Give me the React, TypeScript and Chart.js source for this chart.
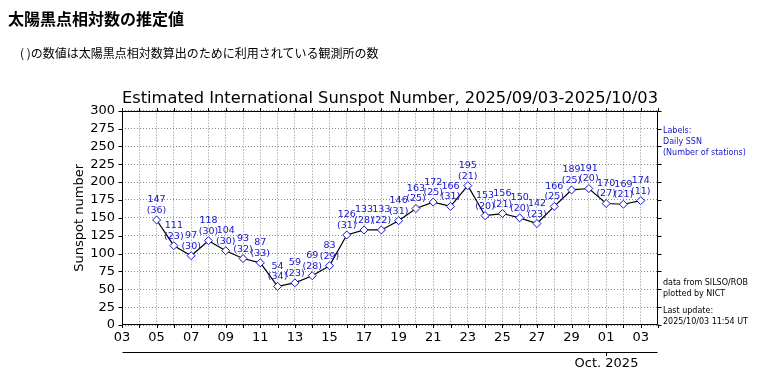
import React, { useEffect, useRef } from 'react';
import { Chart, registerables } from 'chart.js';

Chart.register(...registerables);

// Axis day labels: Sep 03 ... Oct 03 (index 0..30)
const axisDays = [
  '03', '04', '05', '06', '07', '08', '09', '10', '11', '12', '13', '14', '15', '16',
  '17', '18', '19', '20', '21', '22', '23', '24', '25', '26', '27', '28', '29', '30',
  '01', '02', '03',
];
const dataStartIndex = 2; // data begins on Sep 05
const ssn = [
  147, 111, 97, 118, 104, 93, 87, 54, 59, 69, 83, 126, 133, 133, 146, 163, 172, 166,
  195, 153, 156, 150, 142, 166, 189, 191, 170, 169, 174,
];
const stations = [
  36, 23, 30, 30, 30, 32, 33, 34, 23, 28, 29, 31, 28, 22, 31, 25, 25, 31,
  21, 20, 21, 20, 23, 25, 25, 20, 27, 21, 11,
];
const yTickValues = [0, 25, 50, 75, 100, 125, 150, 175, 200, 225, 250, 275, 300];
const monthLabel = 'Oct. 2025';
const monthStartIndex = 28;
const chartTitle = 'Estimated International Sunspot Number, 2025/09/03-2025/10/03';
const yTitle = 'Sunspot number';
const legendLines = ['Labels:', 'Daily SSN', '(Number of stations)'];
const creditLines = ['data from SILSO/ROB', 'plotted by NICT'];
const updateLines = ['Last update:', '2025/10/03 11:54 UT'];

const FONT = 'DejaVu Sans';
const BLUE = '#1414cc';

const mplPlugin = {
  id: 'mplDecor',
  afterDatasetsDraw(chart: any) {
    const { ctx } = chart;
    const meta = chart.getDatasetMeta(0);
    ctx.save();
    ctx.fillStyle = BLUE;
    ctx.font = `9.5px "${FONT}"`;
    ctx.textAlign = 'center';
    ctx.textBaseline = 'middle';
    meta.data.forEach((el: any, i: number) => {
      ctx.fillText(String(ssn[i]), el.x, el.y - 20);
      ctx.fillText(`(${stations[i]})`, el.x, el.y - 9.5);
    });
    ctx.restore();
  },
  afterDraw(chart: any) {
    const { ctx, chartArea: a, scales } = chart;
    const xs = scales.x;
    const ys = scales.y;
    ctx.save();
    ctx.strokeStyle = '#000';
    ctx.lineWidth = 1;
    const L = Math.round(a.left) + 0.5;
    const R = Math.round(a.right) - 0.5;
    const T = Math.round(a.top) + 0.5;
    const B = Math.round(a.bottom) - 0.5;
    ctx.beginPath();
    ctx.rect(L, T, R - L, B - T);
    // x ticks top & bottom (outward)
    for (let i = 0; i <= 31; i++) {
      const px = Math.round(xs.getPixelForValue(i)) + 0.5;
      ctx.moveTo(px, B);
      ctx.lineTo(px, B + 3.5);
      ctx.moveTo(px, T);
      ctx.lineTo(px, T - 3.5);
    }
    // y ticks left & right (outward)
    yTickValues.forEach((v) => {
      const py = Math.round(ys.getPixelForValue(v)) + 0.5;
      ctx.moveTo(L, py);
      ctx.lineTo(L - 4, py);
      ctx.moveTo(R, py);
      ctx.lineTo(R + 4, py);
    });
    ctx.stroke();

    // secondary month axis
    const my = Math.round(a.bottom + 27) + 0.5;
    const mx = Math.round(xs.getPixelForValue(monthStartIndex)) + 0.5;
    ctx.beginPath();
    ctx.moveTo(L, my);
    ctx.lineTo(R, my);
    ctx.moveTo(mx, my);
    ctx.lineTo(mx, my + 3.5);
    ctx.stroke();
    ctx.fillStyle = '#000';
    ctx.font = `13px "${FONT}"`;
    ctx.textAlign = 'center';
    ctx.textBaseline = 'middle';
    ctx.fillText(monthLabel, mx, my + 11);

    // right-side annotations
    ctx.textAlign = 'left';
    ctx.font = `8px "${FONT}"`;
    const tx = a.right + 5;
    ctx.fillStyle = BLUE;
    legendLines.forEach((s, i) => ctx.fillText(s, tx, a.top + 20 + i * 11));
    ctx.fillStyle = '#000';
    creditLines.forEach((s, i) => ctx.fillText(s, tx, a.bottom - 42 + i * 11));
    updateLines.forEach((s, i) => ctx.fillText(s, tx, a.bottom - 14 + i * 11));
    ctx.restore();
  },
};

export default function App() {
  const ref = useRef<HTMLCanvasElement>(null);
  useEffect(() => {
    const points = ssn.map((v, i) => ({ x: i + dataStartIndex, y: v }));
    const chart = new Chart(ref.current as HTMLCanvasElement, {
      type: 'line',
      data: {
        datasets: [
          {
            data: points,
            borderColor: '#000',
            borderWidth: 1.2,
            pointStyle: 'rectRot',
            pointRadius: 4,
            pointBorderWidth: 1,
            pointBorderColor: BLUE,
            pointBackgroundColor: '#fff',
            tension: 0,
          },
        ],
      },
      options: {
        responsive: false,
        devicePixelRatio: 1,
        animation: false,
        layout: { padding: { left: 0, right: 102, top: 88.6, bottom: 23 } },
        plugins: {
          legend: { display: false },
          tooltip: { enabled: false },
          title: {
            display: true,
            text: chartTitle,
            fullSize: false,
            color: '#000',
            font: { family: FONT, size: 16.7, weight: 'normal' },
            padding: { top: 0, bottom: 2 },
          },
        },
        scales: {
          x: {
            type: 'linear',
            min: 0,
            max: 31,
            afterBuildTicks: (s: any) => {
              s.ticks = axisDays.map((_, i) => ({ value: i }));
            },
            afterFit: (s: any) => {
              s.height = 30;
            },
            ticks: {
              autoSkip: false,
              maxRotation: 0,
              padding: 5,
              color: '#000',
              font: { family: FONT, size: 13 },
              callback: (v: any) => (Number(v) % 2 === 0 ? axisDays[Number(v)] : ''),
            },
            grid: { color: '#8a8a8a', lineWidth: 1, drawTicks: false },
            border: { display: false, dash: [1, 2] },
          },
          y: {
            min: 0,
            max: 300,
            afterBuildTicks: (s: any) => {
              s.ticks = yTickValues.map((v) => ({ value: v }));
            },
            afterFit: (s: any) => {
              s.width = 122;
            },
            ticks: {
              autoSkip: false,
              padding: 7,
              color: '#000',
              font: { family: FONT, size: 13 },
            },
            grid: { color: '#8a8a8a', lineWidth: 1, drawTicks: false },
            border: { display: false, dash: [1, 2] },
            title: {
              display: true,
              text: yTitle,
              color: '#000',
              font: { family: FONT, size: 13 },
              padding: { top: 72, bottom: 0 },
            },
          },
        },
      },
      plugins: [mplPlugin],
    } as any);
    return () => chart.destroy();
  }, []);

  return (
    <div
      style={{
        position: 'absolute',
        left: 0,
        top: 0,
        width: 760,
        height: 378,
        background: '#fff',
        overflow: 'hidden',
      }}
    >
      <canvas
        ref={ref}
        width={760}
        height={378}
        style={{ position: 'absolute', left: 0, top: 0, width: 760, height: 378 }}
      />
      <div
        style={{
          position: 'absolute',
          left: 8,
          top: 8,
          lineHeight: '20px',
          fontFamily: '"Noto Sans CJK JP", sans-serif',
          fontWeight: 'bold',
          fontSize: 16,
          color: '#000',
          whiteSpace: 'nowrap',
        }}
      >
        太陽黒点相対数の推定値
      </div>
      <div
        style={{
          position: 'absolute',
          left: 20,
          top: 45,
          lineHeight: '16px',
          fontFamily: '"Noto Sans CJK JP", sans-serif',
          fontSize: 12,
          color: '#000',
          whiteSpace: 'pre',
        }}
      >
        {'( )の数値は太陽黒点相対数算出のために利用されている観測所の数'}
      </div>
    </div>
  );
}
